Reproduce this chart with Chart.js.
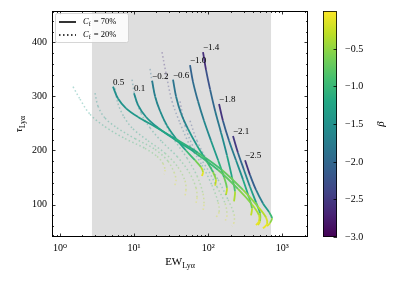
<!DOCTYPE html>
<html>
<head>
<meta charset="utf-8">
<script src="https://cdn.jsdelivr.net/npm/chart.js@4.4.1/dist/chart.umd.min.js"></script>
<style>
  html, body { margin: 0; padding: 0; background: #fff; }
</style>
</head>
<body>
<canvas id="chart" width="399" height="283"></canvas>
<script>
// axis ticks and ranges
const xTicks = [1, 10, 100, 1000];
const yTicks = [100, 200, 300, 400];
const cbTicks = [-0.5, -1.0, -1.5, -2.0, -2.5, -3.0];
const betaRange = [-3.0, 0.0];
const shadeRange = [2.7, 704];
const curveLabels = ["0.5", "0.1", "\u22120.2", "\u22120.6", "\u22121.0", "\u22121.4", "\u22121.8", "\u22122.1", "\u22122.5"];

// C_f = 70% (solid) : EW, tau and beta along each track
const ew70 = [
  [5.19, 6.06, 7.78, 11.3, 19.2, 35.6, 72.8, 153, 295, 470, 603, 622, 549],
  [9.97, 11.3, 14.5, 21.0, 35.6, 66.3, 136, 252, 390, 485, 485, 442],
  [17.5, 19.2, 22.4, 27.8, 36.8, 50.1, 66.3, 80.0, 85.1, 82.4],
  [33.5, 36.8, 42.9, 53.3, 70.6, 93.4, 116, 127, 124],
  [56.8, 62.3, 72.8, 87.7, 109, 136, 163, 179, 174],
  [85.1, 93.4, 106, 124, 149, 179, 209, 230, 223],
  [140, 158, 191, 237, 295, 355, 390, 378],
  [216, 252, 304, 366, 442, 500, 500, 470],
  [314, 366, 442, 549, 662, 726, 682, 622]
];
const tau70 = [
  [318, 296, 278, 262, 244, 222, 196, 164, 127, 96, 76, 64, 56],
  [306, 284, 262, 242, 220, 196, 164, 129, 100, 80, 69, 62],
  [329, 300, 273, 246, 222, 200, 182, 169, 160, 153],
  [331, 300, 269, 240, 209, 182, 160, 146, 135],
  [358, 327, 291, 255, 218, 182, 151, 131, 118],
  [382, 349, 313, 273, 233, 191, 151, 124, 106],
  [286, 255, 218, 182, 146, 113, 93, 80],
  [227, 196, 164, 133, 104, 84, 69, 62],
  [182, 155, 127, 102, 86, 75, 66, 60]
];
const beta70 = [
  [-1.55, -1.5, -1.45, -1.4, -1.3, -1.2, -1.0, -0.8, -0.6, -0.4, -0.25, -0.12, -0.05],
  [-1.6, -1.55, -1.5, -1.42, -1.3, -1.1, -0.85, -0.65, -0.45, -0.3, -0.15, -0.05],
  [-1.75, -1.7, -1.6, -1.5, -1.35, -1.15, -0.8, -0.45, -0.2, -0.05],
  [-1.9, -1.8, -1.7, -1.55, -1.35, -1.1, -0.7, -0.35, -0.1],
  [-2.1, -2.0, -1.85, -1.7, -1.5, -1.25, -0.9, -0.45, -0.1],
  [-2.8, -2.4, -2.1, -1.9, -1.7, -1.45, -1.1, -0.6, -0.15],
  [-2.8, -2.3, -1.9, -1.65, -1.4, -1.0, -0.5, -0.1],
  [-2.8, -2.2, -1.8, -1.5, -1.15, -0.7, -0.3, -0.05],
  [-2.8, -2.3, -1.9, -1.55, -1.2, -0.75, -0.3, -0.05]
];

// C_f = 20% (dotted)
const ew20 = [
  [1.50, 1.86, 2.54, 4.05, 7.54, 14.0, 20.4, 24.5, 26.1, 25.3],
  [2.97, 3.26, 4.05, 5.88, 10.3, 19.2, 28.7, 34.5, 36.8, 35.6],
  [5.52, 6.06, 7.31, 9.66, 15.4, 26.1, 39.1, 48.6, 50.1, 48.6],
  [9.37, 10.3, 12.4, 16.4, 23.8, 37.9, 55.1, 68.4, 70.6, 68.4],
  [16.4, 18.0, 21.0, 26.1, 35.6, 51.7, 70.6, 85.1, 87.7, 85.1],
  [23.8, 27.0, 32.5, 41.6, 56.8, 82.4, 112, 136, 140, 127],
  [41.6, 48.6, 64.3, 96.4, 131, 169, 179, 169],
  [56.8, 70.6, 96.4, 136, 185, 223, 223, 209]
];
const tau20 = [
  [318, 295, 267, 244, 222, 204, 189, 176, 164, 156],
  [306, 282, 260, 242, 222, 202, 180, 160, 146, 136],
  [315, 287, 262, 240, 218, 195, 169, 144, 127, 116],
  [331, 300, 269, 242, 216, 189, 160, 131, 113, 102],
  [351, 318, 284, 251, 218, 186, 153, 120, 100, 89],
  [382, 342, 291, 251, 209, 173, 136, 104, 86, 76],
  [291, 246, 204, 167, 133, 102, 80, 69],
  [255, 218, 182, 146, 109, 82, 67, 60]
];
const beta20 = [
  [-1.45, -1.4, -1.3, -1.2, -1.05, -0.9, -0.7, -0.45, -0.2, -0.05],
  [-1.5, -1.45, -1.35, -1.25, -1.1, -0.9, -0.7, -0.45, -0.2, -0.05],
  [-1.6, -1.5, -1.4, -1.3, -1.15, -0.95, -0.7, -0.45, -0.2, -0.05],
  [-1.8, -1.7, -1.55, -1.4, -1.25, -1.05, -0.8, -0.5, -0.2, -0.05],
  [-2.0, -1.85, -1.7, -1.55, -1.35, -1.15, -0.85, -0.5, -0.2, -0.05],
  [-2.7, -2.5, -2.3, -2.1, -1.85, -1.5, -1.1, -0.6, -0.25, -0.05],
  [-2.6, -2.2, -1.85, -1.5, -1.1, -0.6, -0.25, -0.05],
  [-2.5, -2.1, -1.75, -1.4, -1.0, -0.5, -0.2, -0.05]
];

const SERIF = "'Liberation Serif', 'DejaVu Serif', serif";

// viridis colour stops
const VIR = ["#440154", "#482475", "#414487", "#355f8d", "#2a788e", "#21918c",
             "#22a884", "#44bf70", "#7ad151", "#bddf26", "#fde725"];
const VIR_RGB = VIR.map(h => [1, 3, 5].map(i => parseInt(h.substr(i, 2), 16)));

function viridis(b, alpha) {
  const t = Math.min(1, Math.max(0, (b - betaRange[0]) / (betaRange[1] - betaRange[0]))) * 10;
  const i = Math.min(9, Math.floor(t));
  const f = t - i;
  const c = VIR_RGB[i].map((v, k) => Math.round(v + (VIR_RGB[i + 1][k] - v) * f));
  return `rgba(${c[0]},${c[1]},${c[2]},${alpha})`;
}

function track(ew, tau, beta, dotted) {
  return {
    data: ew.map((v, i) => ({ x: v, y: tau[i] })),
    borderWidth: dotted ? 1.5 : 1.8,
    borderDash: dotted ? [1.5, 2.5] : [],
    pointRadius: 0,
    tension: 0.35,
    fill: false,
    segment: {
      borderColor: c => viridis((beta[c.p0DataIndex] + beta[c.p1DataIndex]) / 2, dotted ? 0.35 : 1)
    }
  };
}

const datasets = [
  ...ew20.map((ew, i) => track(ew, tau20[i], beta20[i], true)),
  ...ew70.map((ew, i) => track(ew, tau70[i], beta70[i], false))
];
const firstSolid = ew20.length;

const SUP = { 0: "\u2070", 1: "\u00b9", 2: "\u00b2", 3: "\u00b3" };

// shading, frame, inward ticks, labels, legend and colourbar
const decorations = {
  id: "decorations",
  beforeDatasetsDraw(chart) {
    const { ctx, chartArea: a, scales: { x } } = chart;
    const x0 = x.getPixelForValue(shadeRange[0]);
    const x1 = x.getPixelForValue(shadeRange[1]);
    ctx.save();
    ctx.fillStyle = "#dedede";
    ctx.fillRect(x0, a.top, x1 - x0, a.bottom - a.top);
    ctx.restore();
  },
  afterDraw(chart) {
    const { ctx, chartArea: a, scales: { x, y } } = chart;
    ctx.save();

    // curve labels at the start of each solid track
    ctx.fillStyle = "#000";
    ctx.font = `9px ${SERIF}`;
    ctx.textAlign = "left";
    ctx.textBaseline = "alphabetic";
    curveLabels.forEach((t, i) => {
      const p = chart.getDatasetMeta(firstSolid + i).data[0];
      ctx.fillText(t, p.x, p.y - 2);
    });

    // frame
    ctx.strokeStyle = "#000";
    ctx.lineWidth = 1;
    ctx.strokeRect(a.left + 0.5, a.top + 0.5, a.right - a.left - 1, a.bottom - a.top - 1);

    // ticks (inward, all four sides)
    ctx.lineWidth = 0.8;
    const tickX = (v, len) => {
      const px = Math.round(x.getPixelForValue(v)) + 0.5;
      if (px < a.left + 1 || px > a.right - 1) return;
      ctx.beginPath();
      ctx.moveTo(px, a.bottom); ctx.lineTo(px, a.bottom - len);
      ctx.moveTo(px, a.top); ctx.lineTo(px, a.top + len);
      ctx.stroke();
    };
    const tickY = (v, len) => {
      const py = Math.round(y.getPixelForValue(v)) + 0.5;
      if (py < a.top + 1 || py > a.bottom - 1) return;
      ctx.beginPath();
      ctx.moveTo(a.left, py); ctx.lineTo(a.left + len, py);
      ctx.moveTo(a.right, py); ctx.lineTo(a.right - len, py);
      ctx.stroke();
    };
    for (let e = -1; e <= 3; e++) {
      for (let m = 1; m <= 9; m++) {
        const v = m * Math.pow(10, e);
        if (v < x.min || v > x.max) continue;
        tickX(v, m === 1 ? 3.5 : 2);
      }
    }
    for (let v = 40; v <= 460; v += 20) tickY(v, v % 100 === 0 ? 3.5 : 2);

    // axis titles
    ctx.fillStyle = "#000";
    ctx.textBaseline = "alphabetic";
    ctx.font = `11px ${SERIF}`;
    const mainW = ctx.measureText("EW").width;
    ctx.font = `8px ${SERIF}`;
    const subW = ctx.measureText("Ly\u03b1").width;
    const cx = (a.left + a.right) / 2;
    let sx = cx - (mainW + subW) / 2;
    ctx.font = `11px ${SERIF}`;
    ctx.fillText("EW", sx, 265);
    ctx.font = `8px ${SERIF}`;
    ctx.fillText("Ly\u03b1", sx + mainW, 268);

    ctx.save();
    ctx.translate(22, (a.top + a.bottom) / 2);
    ctx.rotate(-Math.PI / 2);
    ctx.font = `italic 11px ${SERIF}`;
    const tW = ctx.measureText("\u03c4").width;
    ctx.font = `8px ${SERIF}`;
    const lW = ctx.measureText("Ly\u03b1").width;
    ctx.font = `italic 11px ${SERIF}`;
    ctx.fillText("\u03c4", -(tW + lW) / 2, 0);
    ctx.font = `8px ${SERIF}`;
    ctx.fillText("Ly\u03b1", -(tW + lW) / 2 + tW, 3);
    ctx.restore();

    // legend
    const lx = a.left + 3, ly = a.top + 2, lw = 73, lh = 29;
    ctx.fillStyle = "rgba(255,255,255,0.85)";
    ctx.strokeStyle = "#cccccc";
    ctx.lineWidth = 0.8;
    ctx.beginPath();
    ctx.roundRect(lx + 0.5, ly + 0.5, lw, lh, 2);
    ctx.fill();
    ctx.stroke();
    const rows = [{ y: ly + 9, dash: [] , pct: "70%" }, { y: ly + 22, dash: [1.5, 2.5], pct: "20%" }];
    rows.forEach(r => {
      ctx.strokeStyle = "#000";
      ctx.lineWidth = 1.6;
      ctx.setLineDash(r.dash);
      ctx.beginPath();
      ctx.moveTo(lx + 4, r.y); ctx.lineTo(lx + 21, r.y);
      ctx.stroke();
      ctx.setLineDash([]);
      ctx.fillStyle = "#000";
      ctx.textBaseline = "middle";
      let tx = lx + 28;
      ctx.font = `italic 8.5px ${SERIF}`;
      ctx.fillText("C", tx, r.y);
      tx += ctx.measureText("C").width;
      ctx.font = `6px ${SERIF}`;
      ctx.fillText("f", tx, r.y + 2);
      tx += ctx.measureText("f").width + 1;
      ctx.font = `8.5px ${SERIF}`;
      ctx.fillText(" = " + r.pct, tx, r.y);
    });

    // colourbar
    const cbL = 323, cbR = 337, cbT = a.top, cbB = a.bottom;
    const g = ctx.createLinearGradient(0, cbB, 0, cbT);
    VIR.forEach((c, i) => g.addColorStop(i / (VIR.length - 1), c));
    ctx.fillStyle = g;
    ctx.fillRect(cbL, cbT, cbR - cbL, cbB - cbT);
    ctx.strokeStyle = "#000";
    ctx.lineWidth = 0.8;
    ctx.strokeRect(cbL + 0.5, cbT + 0.5, cbR - cbL - 1, cbB - cbT - 1);
    ctx.font = `10px ${SERIF}`;
    ctx.textAlign = "left";
    ctx.textBaseline = "middle";
    ctx.fillStyle = "#000";
    cbTicks.forEach(v => {
      const py = Math.round(cbB - (v - betaRange[0]) / (betaRange[1] - betaRange[0]) * (cbB - cbT)) + 0.5;
      ctx.beginPath();
      ctx.moveTo(cbR, py); ctx.lineTo(cbR - 3.5, py);
      ctx.stroke();
      ctx.fillText(v.toFixed(1).replace("-", "\u2212"), 345, py);
    });
    ctx.save();
    ctx.translate(381, (cbT + cbB) / 2);
    ctx.rotate(-Math.PI / 2);
    ctx.textAlign = "center";
    ctx.font = `italic 11px ${SERIF}`;
    ctx.fillText("\u03b2", 0, 0);
    ctx.restore();

    ctx.restore();
  }
};

new Chart(document.getElementById("chart"), {
  type: "line",
  data: { datasets },
  options: {
    responsive: false,
    animation: false,
    parsing: true,
    layout: { padding: { left: 0, right: 91, top: 8, bottom: 0 } },
    plugins: { legend: { display: false }, tooltip: { enabled: false } },
    scales: {
      x: {
        type: "logarithmic",
        min: 0.78,
        max: 2220,
        grid: { display: false, drawTicks: false },
        border: { display: false },
        afterBuildTicks: s => { s.ticks = xTicks.map(v => ({ value: v })); },
        afterFit: s => { s.height = 46; },
        ticks: {
          autoSkip: false,
          maxRotation: 0,
          padding: 5,
          color: "#000",
          font: { family: SERIF, size: 10 },
          callback: v => "10" + SUP[Math.round(Math.log10(v))]
        }
      },
      y: {
        min: 40,
        max: 458,
        grid: { display: false, drawTicks: false },
        border: { display: false },
        afterBuildTicks: s => { s.ticks = yTicks.map(v => ({ value: v })); },
        afterFit: s => { s.width = 52; },
        ticks: {
          padding: 5,
          color: "#000",
          font: { family: SERIF, size: 10 }
        }
      }
    }
  },
  plugins: [decorations]
});
</script>
</body>
</html>
